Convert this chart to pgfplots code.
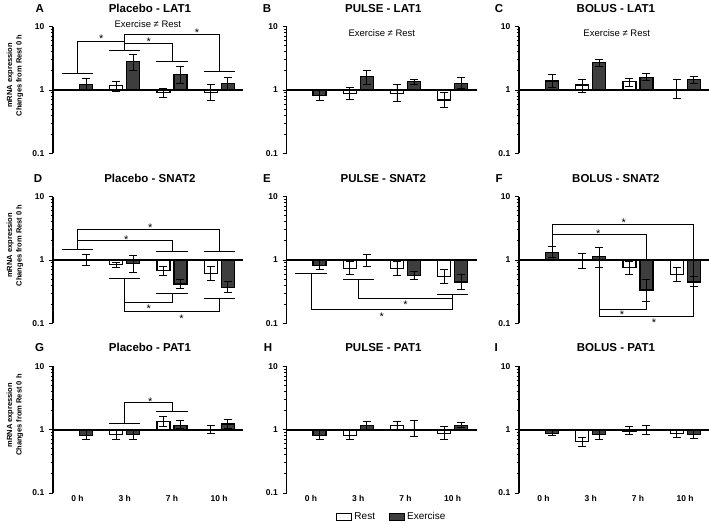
\documentclass[border=0pt]{standalone}
\usepackage{pgfplots}
\usepackage{pgfplotstable}
\pgfplotsset{compat=1.18}
\usepackage{fontspec}
\setmainfont{Liberation Sans}
\definecolor{exgray}{RGB}{62,62,62}

% ---------- data: x y plus minus (linear units) ----------
\pgfplotstableread{
x y ep em
1 1.16 0.19 0.22
2 0.90 0.175 0.15
3 0.91 0.30 0.23
}\RA
\pgfplotstableread{
x y ep em
0 1.24 0.29 0.24
1 2.83 0.78 0.76
2 1.75 0.58 0.48
3 1.27 0.31 0.27
}\EA
\pgfplotstableread{
x y ep em
1 0.886 0.214 0.186
2 0.886 0.324 0.226
3 0.695 0.215 0.165
}\RB
\pgfplotstableread{
x y ep em
0 0.82 0.18 0.13
1 1.62 0.45 0.38
2 1.37 0.12 0.13
3 1.27 0.31 0.23
}\EB
\pgfplotstableread{
x y ep em
1 1.20 0.27 0.28
2 1.35 0.20 0.21
3 1.03 0.43 0.30
}\RC
\pgfplotstableread{
x y ep em
0 1.39 0.36 0.31
1 2.70 0.35 0.37
2 1.60 0.23 0.20
3 1.46 0.20 0.19
}\EC
\pgfplotstableread{
x y ep em
1 0.84 0.09 0.07
2 0.68 0.11 0.11
3 0.616 0.174 0.146
}\RD
\pgfplotstableread{
x y ep em
0 1.00 0.21 0.19
1 0.886 0.314 0.246
2 0.418 0.072 0.058
3 0.37 0.085 0.06
}\ED
\pgfplotstableread{
x y ep em
1 0.74 0.21 0.15
2 0.74 0.21 0.18
3 0.545 0.165 0.115
}\RE
\pgfplotstableread{
x y ep em
0 0.83 0.17 0.11
1 1.00 0.23 0.21
2 0.566 0.094 0.076
3 0.45 0.15 0.11
}\EE
\pgfplotstableread{
x y ep em
1 0.98 0.31 0.24
2 0.75 0.20 0.16
3 0.586 0.184 0.126
}\RF
\pgfplotstableread{
x y ep em
0 1.32 0.32 0.24
1 1.13 0.45 0.36
2 0.336 0.164 0.116
3 0.45 0.09 0.07
}\EF
\pgfplotstableread{
x y ep em
1 0.83 0.17 0.13
2 1.34 0.28 0.23
3 1.00 0.16 0.12
}\RG
\pgfplotstableread{
x y ep em
0 0.82 0.14 0.12
1 0.83 0.17 0.13
2 1.18 0.20 0.12
3 1.23 0.21 0.17
}\EG
\pgfplotstableread{
x y ep em
1 0.82 0.16 0.13
2 1.17 0.20 0.17
3 0.875 0.265 0.185
}\RH
\pgfplotstableread{
x y ep em
0 0.80 0.17 0.11
1 1.16 0.21 0.16
2 1.02 0.38 0.24
3 1.16 0.14 0.09
}\EH
\pgfplotstableread{
x y ep em
1 0.65 0.11 0.10
2 0.95 0.19 0.11
3 0.875 0.105 0.115
}\RI
\pgfplotstableread{
x y ep em
0 0.875 0.095 0.075
1 0.84 0.14 0.14
2 0.98 0.18 0.13
3 0.85 0.13 0.12
}\EI

\pgfplotsset{
  mypanel/.style={
    scale only axis, width=190pt, height=126.6pt,
    ymin=0.1, ymax=10, xmin=-0.52, xmax=3.505,
    axis lines*=left,
    x axis line style={draw=none},
    y axis line style={line width=1.3pt},
    xtick={0,1,2,3}, xticklabels={},
    xtick style={draw=none},
    ytick={0.1,1,10}, yticklabels={0.1,1,10},
    minor ytick={0.2,0.3,0.4,0.5,0.6,0.7,0.8,0.9,2,3,4,5,6,7,8,9},
    tick align=outside, major tick length=4pt, minor tick length=2.5pt,
    ytick style={black, line width=1pt},
    yticklabel style={font=\bfseries\fontsize{8.5}{10}\selectfont, inner sep=2pt, xshift=-2.5pt},
    xticklabel style={font=\bfseries\fontsize{8.5}{10}\selectfont, inner sep=0pt, yshift=1.5pt},
    clip=false,
    title style={font=\bfseries\fontsize{11.5}{13}\selectfont, at={(axis description cs:0.51,1.1)}, anchor=center},
    ylabel style={align=center, font=\bfseries\fontsize{7.5}{9.5}\selectfont, at={(axis description cs:-0.2,0.615)}, anchor=center},
  },
  myerr/.style={
    error bars/y dir=both, error bars/y explicit,
    error bars/error bar style={line width=0.9pt,black},
    error bars/error mark options={rotate=90,mark size=4pt,line width=0.9pt,black}},
  myrest/.style={ybar, bar width=13pt, bar shift=0pt, draw=black, fill=white, line width=1.1pt, myerr},
  myex/.style={ybar, bar width=13pt, bar shift=0pt, draw=black, fill=exgray, line width=1.1pt, myerr},
}
\tikzset{
  mybrk/.style={line width=0.85pt, black},
  mystar/.style={font=\fontsize{11}{11}\selectfont, inner sep=0pt, anchor=center, yshift=-2.5pt},
  myletter/.style={font=\bfseries\fontsize{11.5}{13}\selectfont, anchor=center},
  myner/.style={font=\fontsize{9.5}{11}\selectfont, anchor=center},
}
\newcommand{\bars}[2]{%
  \addplot[myrest] table[x expr=\thisrow{x}-0.18,y=y,y error plus=ep,y error minus=em]{#1};
  \addplot[myex] table[x expr=\thisrow{x}+0.18,y=y,y error plus=ep,y error minus=em]{#2};
  \draw[line width=1.6pt] (axis cs:-0.52,1) -- (axis cs:3.505,1);
}
\newcommand{\st}[2]{\node[mystar] at (axis cs:#1,#2) {*};}

\begin{document}
\begin{tikzpicture}
\useasboundingbox (0,0) rectangle (709pt,-524pt);

% ---------------- Row 1 ----------------
\begin{axis}[ymode=log, log origin y=0, mypanel, at={(53pt,-153.3pt)}, anchor=south west,
  title={Placebo - LAT1}, ylabel={mRNA expression\\Changes from Rest 0 h}]
\bars{\RA}{\EA}
\draw[mybrk] (axis cs:-0.33,1.86) -- (axis cs:0.33,1.86);
\draw[mybrk] (axis cs:0.67,4.28) -- (axis cs:1.33,4.28);
\draw[mybrk] (axis cs:1.67,2.87) -- (axis cs:2.33,2.87);
\draw[mybrk] (axis cs:2.67,2.0) -- (axis cs:3.33,2.0);
\draw[mybrk] (axis cs:0,1.86) -- (axis cs:0,5.94) -- (axis cs:1,5.94);
\draw[mybrk] (axis cs:1,4.28) -- (axis cs:1,7.48) -- (axis cs:3,7.48) -- (axis cs:3,2.0);
\draw[mybrk] (axis cs:1,5.45) -- (axis cs:2,5.45) -- (axis cs:2,2.87);
\st{0.5}{6.95} \st{1.51}{6.3} \st{2.53}{8.87}
\node[myner] at (axis cs:1.49,11.1) {Exercise ≠ Rest};
\node[myletter] at (axis description cs:-0.07,1.147) {A};
\end{axis}

\begin{axis}[ymode=log, log origin y=0, mypanel, at={(286.5pt,-153.3pt)}, anchor=south west, title={PULSE - LAT1}]
\bars{\RB}{\EB}
\node[myner] at (axis cs:1.50,7.94) {Exercise ≠ Rest};
\node[myletter] at (axis description cs:-0.103,1.147) {B};
\end{axis}

\begin{axis}[ymode=log, log origin y=0, mypanel, at={(519pt,-153.3pt)}, anchor=south west, title={BOLUS - LAT1}]
\bars{\RC}{\EC}
\node[myner] at (axis cs:1.55,7.94) {Exercise ≠ Rest};
\node[myletter] at (axis description cs:-0.105,1.147) {C};
\end{axis}

% ---------------- Row 2 ----------------
\begin{axis}[ymode=log, log origin y=0, mypanel, at={(53pt,-323.3pt)}, anchor=south west,
  title={Placebo - SNAT2}, ylabel={mRNA expression\\Changes from Rest 0 h}]
\bars{\RD}{\ED}
\draw[mybrk] (axis cs:-0.33,1.46) -- (axis cs:0.33,1.46);
\draw[mybrk] (axis cs:1.67,1.37) -- (axis cs:2.33,1.37);
\draw[mybrk] (axis cs:2.67,1.37) -- (axis cs:3.33,1.37);
\draw[mybrk] (axis cs:0.67,0.52) -- (axis cs:1.33,0.52);
\draw[mybrk] (axis cs:1.67,0.30) -- (axis cs:2.33,0.30);
\draw[mybrk] (axis cs:2.67,0.25) -- (axis cs:3.33,0.25);
\draw[mybrk] (axis cs:0,1.46) -- (axis cs:0,3.05) -- (axis cs:3,3.05) -- (axis cs:3,1.37);
\draw[mybrk] (axis cs:0,2.07) -- (axis cs:2,2.07) -- (axis cs:2,1.37);
\draw[mybrk] (axis cs:1,0.52) -- (axis cs:1,0.155) -- (axis cs:3,0.155) -- (axis cs:3,0.25);
\draw[mybrk] (axis cs:1,0.215) -- (axis cs:2,0.215) -- (axis cs:2,0.30);
\st{1.54}{3.6} \st{1.03}{2.33} \st{1.51}{0.184} \st{2.2}{0.13}
\node[myletter] at (axis description cs:-0.079,1.147) {D};
\end{axis}

\begin{axis}[ymode=log, log origin y=0, mypanel, at={(286.5pt,-323.3pt)}, anchor=south west, title={PULSE - SNAT2}]
\bars{\RE}{\EE}
\draw[mybrk] (axis cs:-0.33,0.62) -- (axis cs:0.33,0.62);
\draw[mybrk] (axis cs:0.67,0.50) -- (axis cs:1.33,0.50);
\draw[mybrk] (axis cs:2.67,0.29) -- (axis cs:3.33,0.29);
\draw[mybrk] (axis cs:0,0.62) -- (axis cs:0,0.166) -- (axis cs:3,0.166) -- (axis cs:3,0.29);
\draw[mybrk] (axis cs:1,0.50) -- (axis cs:1,0.25) -- (axis cs:3,0.25);
\st{1.5}{0.14} \st{2.0}{0.215}
\node[myletter] at (axis description cs:-0.103,1.147) {E};
\end{axis}

\begin{axis}[ymode=log, log origin y=0, mypanel, at={(519pt,-323.3pt)}, anchor=south west, title={BOLUS - SNAT2}]
\bars{\RF}{\EF}
\draw[mybrk] (axis cs:0.18,1.64) -- (axis cs:0.18,3.7) -- (axis cs:3.18,3.7) -- (axis cs:3.18,0.54);
\draw[mybrk] (axis cs:0.18,2.57) -- (axis cs:2.18,2.57) -- (axis cs:2.18,1.0);
\draw[mybrk] (axis cs:1.18,0.77) -- (axis cs:1.18,0.168) -- (axis cs:2.18,0.168) -- (axis cs:2.18,0.22);
\draw[mybrk] (axis cs:1.18,0.168) -- (axis cs:1.18,0.129) -- (axis cs:3.18,0.129) -- (axis cs:3.18,0.38);
\st{1.7}{4.18} \st{1.16}{2.8} \st{1.66}{0.149} \st{2.34}{0.11}
\node[myletter] at (axis description cs:-0.105,1.147) {F};
\end{axis}

% ---------------- Row 3 ----------------
\begin{axis}[ymode=log, log origin y=0, mypanel, at={(53pt,-493pt)}, anchor=south west,
  title={Placebo - PAT1}, ylabel={mRNA expression\\Changes from Rest 0 h},
  xticklabels={0 h,3 h,7 h,10 h}]
\bars{\RG}{\EG}
\draw[mybrk] (axis cs:0.67,1.26) -- (axis cs:1.33,1.26);
\draw[mybrk] (axis cs:1.67,1.96) -- (axis cs:2.33,1.96);
\draw[mybrk] (axis cs:1,1.26) -- (axis cs:1,2.65) -- (axis cs:2,2.65) -- (axis cs:2,1.96);
\st{1.54}{3.0}
\node[myletter] at (axis description cs:-0.07,1.147) {G};
\end{axis}

\begin{axis}[ymode=log, log origin y=0, mypanel, at={(286.5pt,-493pt)}, anchor=south west, title={PULSE - PAT1},
  xticklabels={0 h,3 h,7 h,10 h},
  legend style={at={(axis description cs:0.555,-0.187)}, anchor=center, draw=none, fill=none,
    legend columns=2, font=\fontsize{10}{12}\selectfont,
    /tikz/every even column/.append style={column sep=12pt}}]
\addlegendimage{legend image code/.code={\draw[draw=black,fill=white,line width=1.1pt] (0pt,-3.5pt) rectangle (15pt,3.5pt);}}
\addlegendentry{Rest}
\addlegendimage{legend image code/.code={\draw[draw=black,fill=exgray,line width=1.1pt] (0pt,-3.5pt) rectangle (15pt,3.5pt);}}
\addlegendentry{Exercise}
\bars{\RH}{\EH}
\node[myletter] at (axis description cs:-0.097,1.147) {H};
\end{axis}

\begin{axis}[ymode=log, log origin y=0, mypanel, at={(519pt,-493pt)}, anchor=south west, title={BOLUS - PAT1},
  xticklabels={0 h,3 h,7 h,10 h}]
\bars{\RI}{\EI}
\node[myletter] at (axis description cs:-0.12,1.147) {I};
\end{axis}
\end{tikzpicture}
\end{document}
